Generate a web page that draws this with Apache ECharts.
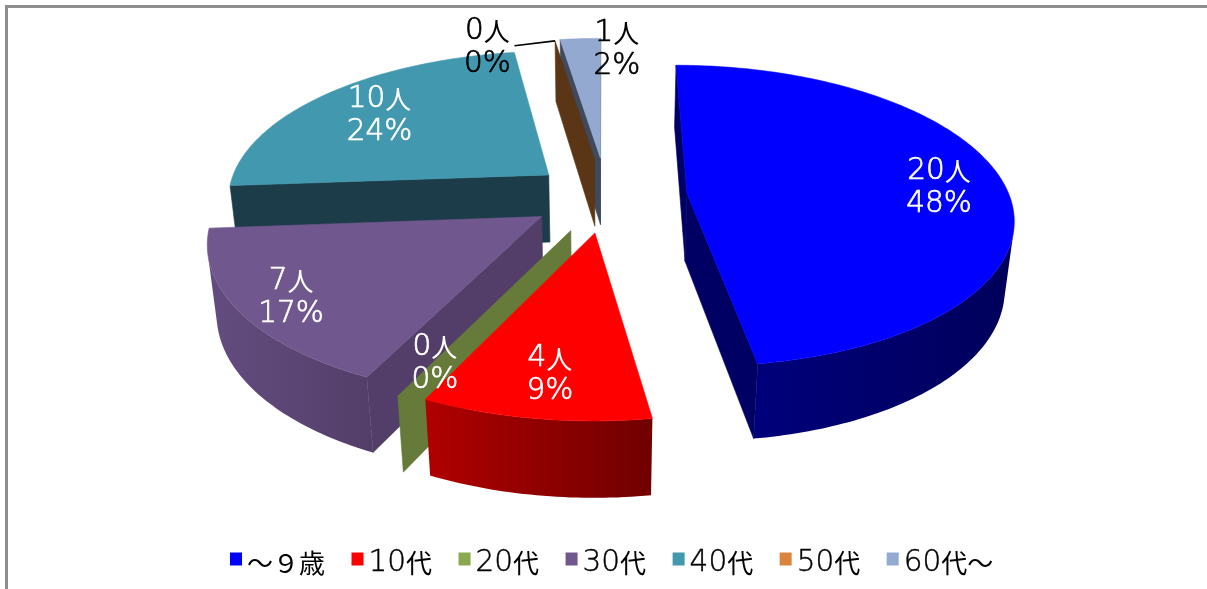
<!DOCTYPE html>
<html><head><meta charset="utf-8">
<style>html,body{margin:0;padding:0;background:#fff}#c{width:1207px;height:589px}</style>
<script src="https://cdn.jsdelivr.net/npm/echarts@6/dist/echarts.min.js"></script>
</head><body><div id="c"></div>
<script>
// ---- data ----
const categories = ['~9歳','10代','20代','30代','40代','50代','60代~'].map(s=>s.replace(/~/g,'～').replace('9','９'));
const people     = [20,4,0,7,10,0,1];
const percents   = [48,9,0,17,24,0,2];

// ---- styling ----
const topColors  = ['#0000ff','#ff0000','#8aa84e','#70588e','#4198af','#db843d','#93a9cf'];
const wallColors = ['#000064','#8a0000','#667a3a','#533e69','#1b3c48','#5a3616','#3f4a5f'];
const rimLeft    = ['#00007c','#b00000','#667a3a','#634d80','#1b3c48','#5a3616','#3f4a5f'];
const rimRight   = ['#00005a','#700000','#667a3a','#533e69','#1b3c48','#5a3616','#3f4a5f'];
const explode    = [0.25,0.243,0.25,0.24,0.235,0.258,0.268];
const labelR     = [0.795,0.78,0.81,0.84,0.747,1.03,0.92];
const labelTurn  = [0,0,0,0,0,-14,8];
const labelFill  = ['#fff','#fff','#fff','#fff','#fff','#000','#000'];
const drawOrder  = [4,6,5,0,3,2,1];
const DIGIT_FONT = '"DejaVu Sans",sans-serif';
const CJK_FONT = '"Noto Sans CJK JP",sans-serif';
const labelRich = fill=>({
  d:{fontFamily:DIGIT_FONT,fontWeight:200,fontSize:29.5,fill,lineHeight:33,stroke:fill,lineWidth:0.7},
  c:{fontFamily:CJK_FONT,fontWeight:400,fontSize:26,fill,lineHeight:33}
});
const legendRich = {
  d:{fontFamily:DIGIT_FONT,fontWeight:200,fontSize:29.5,color:'#000',lineHeight:33,padding:[8,0,0,0],textBorderColor:'#000',textBorderWidth:0.4},
  c:{fontFamily:CJK_FONT,fontWeight:400,fontSize:26,color:'#000',lineHeight:33,padding:[8,0,0,0]}
};

// ---- perspective camera of the 3D pie ----
const cam = {cx:602,h:-800,B:991.7,k:0.1478,Sx:321,A:1084,g:0.023,footZ:-5.2,ox:0.015,oz:-0.03};
const topPt = (X,Z)=>{const d=1+cam.k*Z;return [cam.cx+cam.Sx*X/d,cam.h+cam.B/d];};
const botPt = (X,Z)=>{const d=1+cam.k*Z+cam.g;return [cam.cx+cam.Sx*X/d,cam.h+cam.A/d];};
const rad = a=>a*Math.PI/180;

const total = people.reduce((a,b)=>a+b,0);
const slices = []; let acc = 0;
people.forEach((v,i)=>{
  const a0 = acc/total*360; acc += v; const a1 = acc/total*360; const m=(a0+a1)/2;
  slices.push({a0,a1,m,X:cam.ox+explode[i]*Math.sin(rad(m)),Z:cam.oz+explode[i]*Math.cos(rad(m))});
});

function renderSlice(i){
  const s = slices[i], kids = [];
  const rimXZ = t=>[s.X+Math.sin(rad(t)),s.Z+Math.cos(rad(t))];
  const facing = (px,pz,nx,nz)=>((0-px)*nx+(cam.footZ-pz)*nz)>0;
  const poly = (points,fill,z2)=>({type:'polygon',z2,shape:{points},style:{fill,stroke:typeof fill==='string'?fill:null,lineWidth:typeof fill==='string'?0.6:0}});
  const radial = (t,nx,nz)=>{
    const [ex,ez]=rimXZ(t);
    if(facing((s.X+ex)/2,(s.Z+ez)/2,nx,nz))
      kids.push(poly([topPt(s.X,s.Z),topPt(ex,ez),botPt(ex,ez),botPt(s.X,s.Z)],wallColors[i],1));
  };
  radial(s.a0,-Math.cos(rad(s.a0)),Math.sin(rad(s.a0)));
  if(s.a1>s.a0) radial(s.a1,Math.cos(rad(s.a1)),-Math.sin(rad(s.a1)));
  const steps = Math.max(1,Math.round(s.a1-s.a0));
  let run=[];
  const flush=()=>{ if(run.length>1){
      const up=run.map(p=>topPt(p[0],p[1])), dn=run.map(p=>botPt(p[0],p[1])).reverse();
      kids.push(poly(up.concat(dn),{type:'linear',x:0,y:0,x2:1,y2:0,colorStops:[{offset:0,color:rimLeft[i]},{offset:1,color:rimRight[i]}]},2));
    } run=[]; };
  if(s.a1>s.a0){
    for(let j=0;j<=steps;j++){
      const t=s.a0+(s.a1-s.a0)*j/steps, p=rimXZ(t);
      if(facing(p[0],p[1],Math.sin(rad(t)),Math.cos(rad(t)))) run.push(p); else flush();
    }
    flush();
    const pts=[topPt(s.X,s.Z)];
    for(let j=0;j<=steps;j++){const p=rimXZ(s.a0+(s.a1-s.a0)*j/steps);pts.push(topPt(p[0],p[1]));}
    kids.push(poly(pts,topColors[i],3));
  }
  return {type:'group',children:kids};
}

function renderLabels(){
  const kids=[];
  slices.forEach((s,i)=>{
    const t=s.m+labelTurn[i];
    const X=s.X+labelR[i]*Math.sin(rad(t)), Z=s.Z+labelR[i]*Math.cos(rad(t));
    const p=topPt(X,Z);
    kids.push({type:'text',z2:10,x:p[0],y:p[1]+3,style:{text:'{d|'+people[i]+'}{c|人}\n{d|'+percents[i]+'%}',rich:labelRich(labelFill[i]),align:'center',verticalAlign:'middle'}});
    if(labelTurn[i]<0){
      const e=topPt(s.X+Math.sin(rad(s.a0)),s.Z+Math.cos(rad(s.a0)));
      kids.push({type:'line',z2:10,shape:{x1:p[0]+27,y1:p[1]+1,x2:e[0],y2:e[1]},style:{stroke:'#000',lineWidth:1.6}});
    }
  });
  return {type:'group',children:kids};
}

const series = categories.map((name,i)=>({
  name,type:'custom',coordinateSystem:'none',silent:true,animation:false,
  z:2+drawOrder.indexOf(i),itemStyle:{color:topColors[i]},
  data:[[people[i]]],renderItem:()=>renderSlice(i)
}));
series.push({name:'labels',type:'custom',coordinateSystem:'none',silent:true,animation:false,z:20,data:[[0]],renderItem:renderLabels});

const chart = echarts.init(document.getElementById('c'),null,{renderer:'canvas'});
chart.setOption({
  animation:false,backgroundColor:'#fff',
  legend:{data:categories.map(name=>({name,icon:'rect'})),left:225,top:535,itemWidth:12,itemHeight:13,itemGap:26.5,selectedMode:false,
    formatter:name=>{
      const m=name.match(/^(\d+)(.*)$/);
      return m?'{d|'+m[1]+'}{c|'+m[2]+'}':'{c|'+name+'}';
    },
    textStyle:{rich:legendRich}},
  graphic:[
    {type:'line',shape:{x1:5,y1:6.5,x2:1207,y2:6.5},style:{stroke:'#8e8e8e',lineWidth:3}},
    {type:'line',shape:{x1:6.5,y1:5,x2:6.5,y2:589},style:{stroke:'#8e8e8e',lineWidth:3}}
  ],
  series
});
</script></body></html>
